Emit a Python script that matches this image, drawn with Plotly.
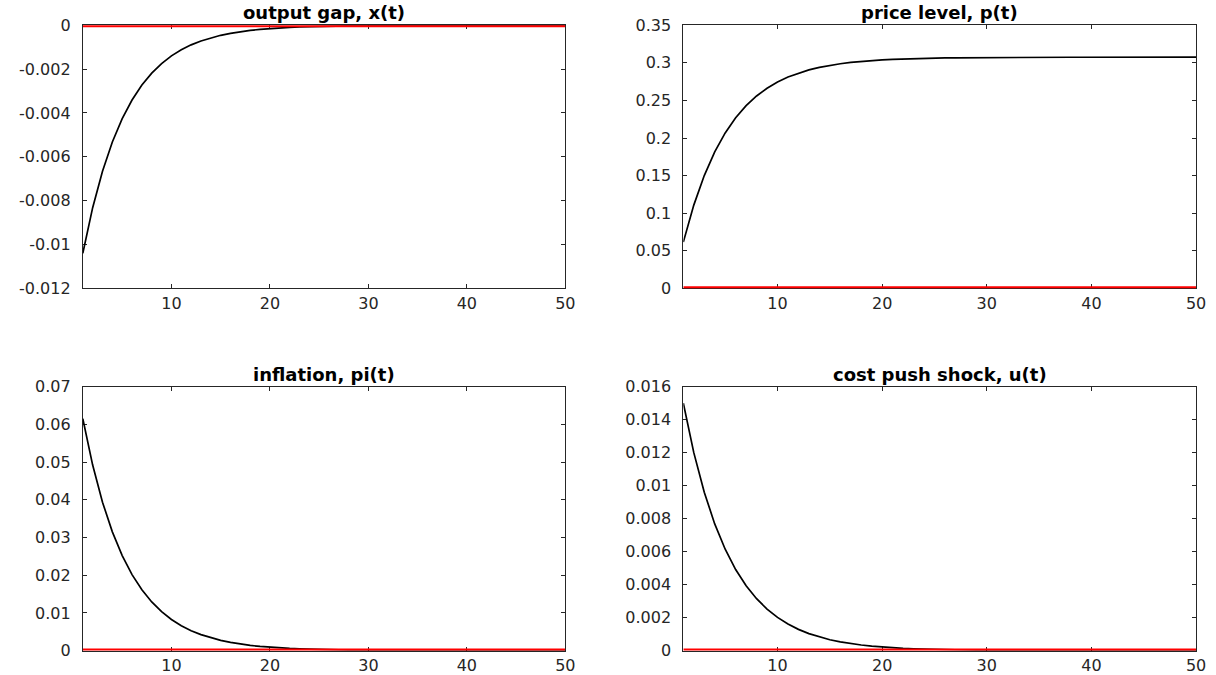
import plotly.graph_objects as go

# ---------------- data ----------------
periods = list(range(1, 51))

output_gap = [-0.0104, -0.00832, -0.006656, -0.005325, -0.00426, -0.003408, -0.002726, -0.002181,
              -0.001745, -0.001396, -0.001117, -0.000893, -0.000715, -0.000572, -0.000457, -0.000366,
              -0.000293, -0.000234, -0.000187, -0.00015, -0.00012, -0.000096, -0.000077, -0.000061,
              -0.000049, -0.000039, -0.000031, -0.000025, -0.00002, -0.000016, -0.000013, -0.00001,
              -0.000008, -0.000007, -0.000005, -0.000004, -0.000003, -0.000003, -0.000002, -0.000002,
              -0.000001, -0.000001, -0.000001, -0.000001, 0.0, 0.0, 0.0, 0.0, 0.0, 0.0]

price_level = [0.0615, 0.1107, 0.15006, 0.18155, 0.20674, 0.22689, 0.24301, 0.25591, 0.26623, 0.27448,
               0.28109, 0.28637, 0.2906, 0.29398, 0.29668, 0.29885, 0.30058, 0.30196, 0.30307, 0.30396,
               0.30467, 0.30523, 0.30569, 0.30605, 0.30634, 0.30657, 0.30676, 0.30691, 0.30703, 0.30712,
               0.3072, 0.30726, 0.30731, 0.30735, 0.30738, 0.30741, 0.30743, 0.30744, 0.30746, 0.30747,
               0.30748, 0.30748, 0.30749, 0.30749, 0.30749, 0.30749, 0.3075, 0.3075, 0.3075, 0.3075]

inflation = [0.0615, 0.0492, 0.03936, 0.031488, 0.02519, 0.02015, 0.01612, 0.012898, 0.010318, 0.008254,
             0.006604, 0.005283, 0.004226, 0.003381, 0.002705, 0.002164, 0.001731, 0.001385, 0.001108,
             0.000886, 0.000709, 0.000567, 0.000454, 0.000363, 0.00029, 0.000232, 0.000186, 0.000149,
             0.000119, 0.000095, 0.000076, 0.000061, 0.000049, 0.000039, 0.000031, 0.000025, 0.00002,
             0.000016, 0.000013, 0.00001, 0.000008, 0.000007, 0.000005, 0.000004, 0.000003, 0.000003,
             0.000002, 0.000002, 0.000001, 0.000001]

cost_push = [0.015, 0.012, 0.0096, 0.00768, 0.006144, 0.004915, 0.003932, 0.003146, 0.002517, 0.002013,
             0.001611, 0.001288, 0.001031, 0.000825, 0.00066, 0.000528, 0.000422, 0.000338, 0.00027,
             0.000216, 0.000173, 0.000138, 0.000111, 0.0000885, 0.0000708, 0.0000567, 0.0000453,
             0.0000363, 0.000029, 0.0000232, 0.0000186, 0.0000149, 0.0000119, 0.0000095, 0.0000076,
             0.0000061, 0.0000049, 0.0000039, 0.0000031, 0.0000025, 0.000002, 0.0000016, 0.0000013,
             0.000001, 0.0000008, 0.0000007, 0.0000005, 0.0000004, 0.0000003, 0.0000003]

zero_line = [0, 0]
zero_line_x = [1, 50]

titles = ["output gap, x(t)", "price level, p(t)", "inflation, pi(t)", "cost push shock, u(t)"]

x_ticks = [10, 20, 30, 40, 50]
x_ticktext = ["10", "20", "30", "40", "50"]

y_ticks_x = [-0.012, -0.01, -0.008, -0.006, -0.004, -0.002, 0]
y_text_x = ["-0.012", "-0.01", "-0.008", "-0.006", "-0.004", "-0.002", "0"]
y_ticks_p = [0, 0.05, 0.1, 0.15, 0.2, 0.25, 0.3, 0.35]
y_text_p = ["0", "0.05", "0.1", "0.15", "0.2", "0.25", "0.3", "0.35"]
y_ticks_pi = [0, 0.01, 0.02, 0.03, 0.04, 0.05, 0.06, 0.07]
y_text_pi = ["0", "0.01", "0.02", "0.03", "0.04", "0.05", "0.06", "0.07"]
y_ticks_u = [0, 0.002, 0.004, 0.006, 0.008, 0.01, 0.012, 0.014, 0.016]
y_text_u = ["0", "0.002", "0.004", "0.006", "0.008", "0.01", "0.012", "0.014", "0.016"]

y_ranges = [[-0.012, 0], [0, 0.35], [0, 0.07], [0, 0.016]]

# ---------------- layout geometry ----------------
W, H = 1216, 675
left_dom = [83.5 / W, 570 / W]
right_dom = [689 / W, 1206 / W]
top_dom = [(H - 288.3) / H, (H - 16.8) / H]
bot_dom = [(H - 662.2) / H, (H - 389.8) / H]

panels = [
    (output_gap, left_dom, top_dom, y_ticks_x, y_text_x),
    (price_level, right_dom, top_dom, y_ticks_p, y_text_p),
    (inflation, left_dom, bot_dom, y_ticks_pi, y_text_pi),
    (cost_push, right_dom, bot_dom, y_ticks_u, y_text_u),
]

AX = "#262626"
FONT = "DejaVu Sans"

fig = go.Figure()
layout = dict(
    width=W, height=H,
    margin=dict(l=0, r=0, t=0, b=0),
    paper_bgcolor="white", plot_bgcolor="white",
    showlegend=False,
    font=dict(family=FONT, size=16, color=AX),
)
annotations = []

for i, (series, xd, yd, yt, ytt) in enumerate(panels):
    n = i + 1
    xa = "x" if n == 1 else f"x{n}"
    ya = "y" if n == 1 else f"y{n}"
    fig.add_trace(go.Scatter(x=periods, y=series, mode="lines",
                             line=dict(color="black", width=1.7),
                             xaxis=xa, yaxis=ya, cliponaxis=False, hoverinfo="skip"))
    # zero reference line (lines are clipped at the plot edge, so draw it wide)
    fig.add_trace(go.Scatter(x=zero_line_x, y=zero_line, mode="lines",
                             line=dict(color="#ff0000", width=4),
                             xaxis=xa, yaxis=ya, cliponaxis=False, hoverinfo="skip"))
    common = dict(showline=True, linecolor=AX, linewidth=1, mirror="ticks",
                  ticks="inside", ticklen=4, tickwidth=1.2, tickcolor=AX,
                  showgrid=False, zeroline=False, layer="below traces",
                  tickfont=dict(family=FONT, size=16, color=AX), fixedrange=True)
    layout["xaxis" if n == 1 else f"xaxis{n}"] = dict(
        domain=xd, range=[1, 50], anchor=ya, tickvals=x_ticks, ticktext=x_ticktext,
        ticklabelstandoff=0, **common)
    layout["yaxis" if n == 1 else f"yaxis{n}"] = dict(
        domain=yd, range=y_ranges[i], anchor=xa, tickvals=yt, ticktext=ytt,
        ticklabelstandoff=8, **common)
    annotations.append(dict(
        text=f"<b>{titles[i]}</b>", xref="paper", yref="paper",
        x=(xd[0] + xd[1]) / 2, y=yd[1], xanchor="center", yanchor="bottom",
        yshift=0, showarrow=False, font=dict(family=FONT, size=18, color="black")))

layout["annotations"] = annotations
fig.update_layout(**layout)
fig.write_html("out.html")
